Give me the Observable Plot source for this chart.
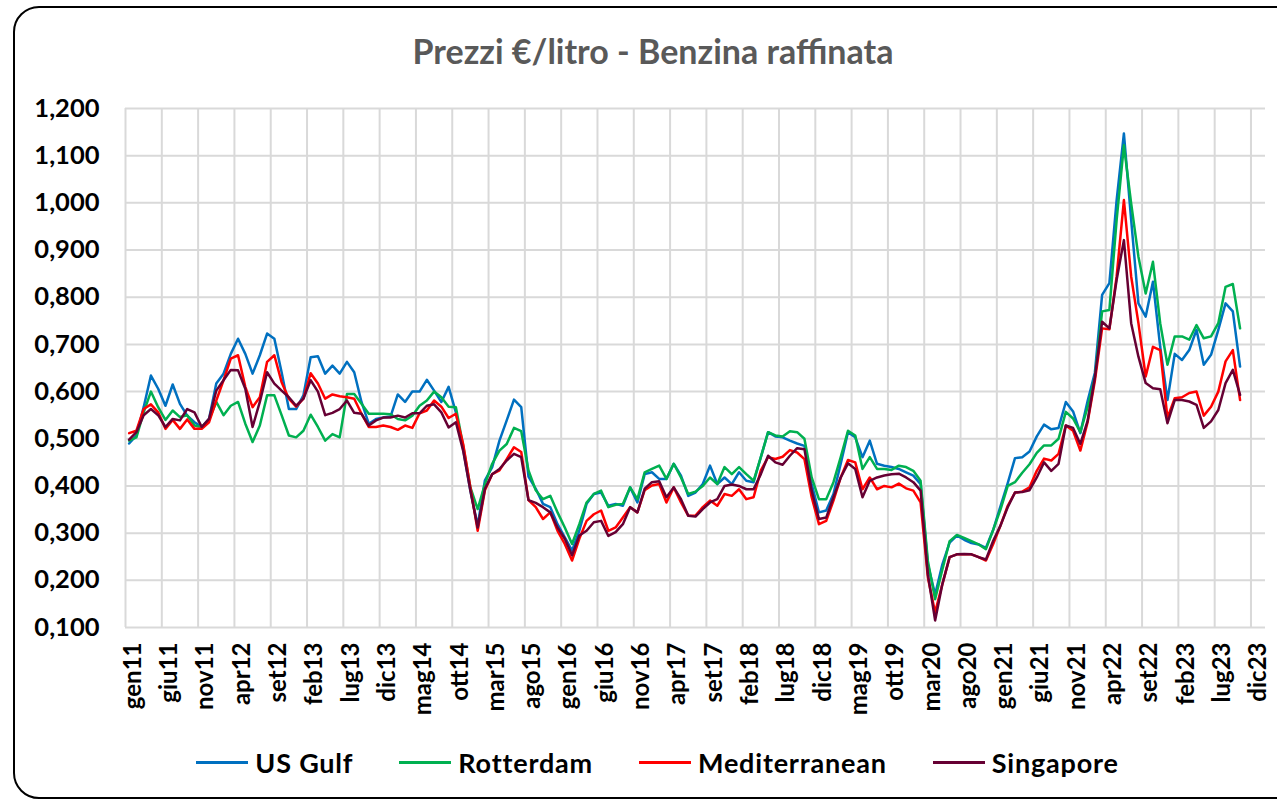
<!DOCTYPE html>
<html>
<head>
<meta charset="utf-8">
<script src="https://cdn.jsdelivr.net/npm/d3@7"></script>
<script src="https://cdn.jsdelivr.net/npm/@observablehq/plot@0.6"></script>
<style>
  body { margin: 0; background: #fff; font-family: Lato, "Open Sans", sans-serif; }
  #wrap { position: relative; width: 1277px; height: 806px; overflow: hidden; background: #fff; }
  #frame { position: absolute; left: 13px; top: 6px; width: 1330px; height: 793px; border: 2px solid #000; border-radius: 26px; box-sizing: border-box; }
  #chart { position: absolute; left: 0; top: 0; }
  #title { position: absolute; left: 0; width: 1306px; top: 30px; text-align: center; font-weight: 700; font-size: 34px; line-height: normal; color: #595959; white-space: nowrap; }
  #legend { position: absolute; left: 0; width: 1315px; top: 746px; display: flex; justify-content: center; align-items: center; font-weight: 700; font-size: 27px; letter-spacing: 0.8px; line-height: normal; color: #000; }
  .item { display: flex; align-items: center; margin: 0 23px; }
  .swatch { width: 52px; height: 2.5px; margin-right: 7px; }
</style>
</head>
<body>
<div id="wrap">
  <div id="frame"></div>
  <div id="chart"></div>
  <div id="title">Prezzi €/litro - Benzina raffinata</div>
  <div id="legend"></div>
</div>
<script>
// Monthly series, gen 2011 (index 0) .. ott 2023 (index 153), €/litro
const usGulf = [
  0.490,0.507,0.567,0.634,0.606,0.570,0.615,0.574,0.549,0.535,0.525,0.542,
  0.617,0.638,0.680,0.712,0.680,0.638,0.677,0.723,0.712,0.641,0.563,0.563,
  0.592,0.673,0.675,0.638,0.655,0.638,0.663,0.641,0.578,0.532,0.542,0.545,
  0.547,0.594,0.578,0.600,0.600,0.625,0.602,0.578,0.610,0.556,0.478,0.390,
  0.316,0.412,0.440,0.496,0.539,0.583,0.567,0.420,0.394,0.362,0.355,0.319,
  0.291,0.263,0.305,0.362,0.383,0.386,0.358,0.362,0.358,0.397,0.365,0.425,
  0.429,0.415,0.415,0.447,0.422,0.379,0.386,0.404,0.443,0.404,0.418,0.404,
  0.429,0.411,0.408,0.461,0.514,0.505,0.503,0.496,0.490,0.485,0.404,0.344,
  0.348,0.383,0.447,0.514,0.503,0.461,0.496,0.447,0.443,0.440,0.436,0.429,
  0.422,0.404,0.234,0.170,0.234,0.280,0.295,0.286,0.279,0.276,0.269,0.307,
  0.357,0.406,0.459,0.461,0.473,0.505,0.530,0.520,0.523,0.578,0.558,0.512,
  0.580,0.640,0.805,0.830,1.006,1.147,0.964,0.787,0.759,0.833,0.695,0.582,
  0.680,0.667,0.688,0.731,0.657,0.678,0.731,0.787,0.770,0.653
];
const rotterdam = [
  0.496,0.503,0.556,0.600,0.567,0.540,0.560,0.546,0.550,0.528,0.525,0.540,
  0.578,0.550,0.570,0.578,0.532,0.493,0.528,0.592,0.592,0.550,0.507,0.503,
  0.517,0.551,0.525,0.496,0.510,0.503,0.595,0.595,0.574,0.553,0.553,0.553,
  0.552,0.542,0.539,0.549,0.570,0.581,0.600,0.588,0.568,0.567,0.485,0.397,
  0.351,0.404,0.447,0.475,0.489,0.523,0.516,0.433,0.391,0.372,0.379,0.344,
  0.312,0.277,0.319,0.365,0.383,0.390,0.355,0.360,0.362,0.397,0.372,0.429,
  0.436,0.443,0.415,0.447,0.418,0.383,0.388,0.400,0.418,0.404,0.440,0.425,
  0.440,0.425,0.411,0.461,0.514,0.507,0.505,0.516,0.514,0.500,0.418,0.372,
  0.372,0.408,0.461,0.517,0.507,0.436,0.461,0.436,0.436,0.434,0.443,0.440,
  0.432,0.411,0.241,0.160,0.223,0.283,0.296,0.290,0.283,0.276,0.266,0.307,
  0.350,0.400,0.408,0.428,0.446,0.470,0.486,0.486,0.500,0.557,0.543,0.514,
  0.567,0.630,0.770,0.773,0.964,1.122,0.999,0.886,0.808,0.875,0.745,0.657,
  0.717,0.717,0.710,0.741,0.713,0.717,0.745,0.822,0.828,0.734
];
const mediterranean = [
  0.512,0.517,0.563,0.573,0.556,0.521,0.540,0.521,0.541,0.521,0.521,0.535,
  0.581,0.624,0.670,0.677,0.610,0.567,0.588,0.663,0.677,0.620,0.585,0.568,
  0.585,0.639,0.617,0.585,0.594,0.590,0.588,0.585,0.553,0.525,0.525,0.528,
  0.525,0.519,0.528,0.523,0.554,0.560,0.581,0.568,0.544,0.553,0.489,0.397,
  0.305,0.391,0.425,0.433,0.457,0.482,0.472,0.370,0.355,0.330,0.344,0.305,
  0.277,0.242,0.288,0.326,0.340,0.348,0.305,0.312,0.333,0.355,0.344,0.391,
  0.401,0.404,0.365,0.397,0.365,0.337,0.337,0.355,0.369,0.358,0.383,0.379,
  0.393,0.372,0.376,0.433,0.461,0.457,0.462,0.476,0.471,0.457,0.376,0.319,
  0.326,0.369,0.418,0.455,0.450,0.393,0.418,0.393,0.400,0.397,0.405,0.395,
  0.390,0.365,0.206,0.132,0.192,0.249,0.255,0.255,0.255,0.249,0.242,0.277,
  0.316,0.358,0.386,0.388,0.397,0.432,0.458,0.454,0.468,0.528,0.517,0.475,
  0.535,0.623,0.734,0.732,0.844,1.006,0.844,0.745,0.632,0.695,0.688,0.544,
  0.586,0.588,0.597,0.600,0.549,0.568,0.600,0.664,0.688,0.582
];
const singapore = [
  0.498,0.514,0.550,0.563,0.550,0.525,0.542,0.539,0.563,0.556,0.525,0.542,
  0.602,0.624,0.646,0.645,0.606,0.525,0.578,0.641,0.617,0.602,0.588,0.570,
  0.585,0.624,0.600,0.550,0.555,0.563,0.581,0.555,0.553,0.528,0.539,0.545,
  0.545,0.549,0.545,0.554,0.554,0.570,0.573,0.556,0.524,0.535,0.475,0.390,
  0.312,0.394,0.425,0.436,0.454,0.468,0.461,0.370,0.364,0.355,0.344,0.312,
  0.288,0.253,0.295,0.305,0.323,0.326,0.294,0.302,0.319,0.355,0.344,0.394,
  0.408,0.410,0.376,0.397,0.372,0.337,0.335,0.351,0.365,0.372,0.400,0.403,
  0.400,0.393,0.393,0.425,0.464,0.450,0.445,0.464,0.480,0.478,0.390,0.330,
  0.333,0.376,0.418,0.448,0.436,0.376,0.411,0.418,0.422,0.425,0.426,0.418,
  0.408,0.390,0.213,0.115,0.192,0.249,0.255,0.256,0.255,0.249,0.244,0.284,
  0.316,0.355,0.386,0.387,0.391,0.418,0.450,0.432,0.447,0.528,0.523,0.489,
  0.538,0.630,0.748,0.734,0.837,0.921,0.745,0.674,0.618,0.607,0.605,0.533,
  0.582,0.582,0.579,0.572,0.523,0.537,0.561,0.618,0.646,0.593
];
const seriesNames = ["US Gulf", "Rotterdam", "Mediterranean", "Singapore"];
const seriesColors = ["#0070C0", "#00B050", "#FF0000", "#660033"];
const xTickLabels = ["gen11","giu11","nov11","apr12","set12","feb13","lug13","dic13","mag14","ott14",
  "mar15","ago15","gen16","giu16","nov16","apr17","set17","feb18","lug18","dic18","mag19","ott19",
  "mar20","ago20","gen21","giu21","nov21","apr22","set22","feb23","lug23","dic23"];
const yTicks = [0.1,0.2,0.3,0.4,0.5,0.6,0.7,0.8,0.9,1.0,1.1,1.2];
const nCategories = 157; // gen11 .. gen24 category slots on the axis
const labelEvery = 5;

const seriesValues = [usGulf, rotterdam, mediterranean, singapore];
const rows = [];
seriesValues.forEach((vals, s) => vals.forEach((v, i) => rows.push({series: seriesNames[s], i: i + 0.5, v})));

const gridPos = xTickLabels.map((_, k) => k * labelEvery);
const tickPos = xTickLabels.map((_, k) => k * labelEvery + 0.5);

const chart = Plot.plot({
  width: 1277,
  height: 720,
  marginLeft: 125,
  marginRight: 12,
  marginTop: 108,
  marginBottom: 93,
  style: {fontFamily: "Lato, 'Open Sans', sans-serif", background: "transparent"},
  x: {type: "linear", domain: [0, nCategories], label: null},
  y: {domain: [0.1, 1.2], label: null},
  color: {domain: seriesNames, range: seriesColors},
  marks: [
    Plot.gridY(yTicks, {stroke: "#d9d9d9", strokeOpacity: 1, strokeWidth: 2}),
    Plot.gridX(gridPos, {stroke: "#d9d9d9", strokeOpacity: 1, strokeWidth: 2}),
    Plot.axisY(yTicks, {tickSize: 0, tickPadding: 26, label: null, tickFormat: d => d.toFixed(3).replace(".", ","),
      fontSize: 25.5, fontWeight: 700, fill: "#000"}),
    Plot.axisX(tickPos, {tickSize: 0, tickPadding: 15, tickRotate: -90, dx: 4, label: null,
      tickFormat: d => xTickLabels[Math.round((d - 0.5) / labelEvery)],
      fontSize: 24, fontWeight: 700, fill: "#000"}),
    Plot.line(rows, {x: "i", y: "v", z: "series", stroke: "series", strokeWidth: 2.5, strokeLinejoin: "round"})
  ]
});
document.getElementById("chart").appendChild(chart);

const legend = document.getElementById("legend");
seriesNames.forEach((name, s) => {
  const item = document.createElement("div");
  item.className = "item";
  const sw = document.createElement("span");
  sw.className = "swatch";
  sw.style.background = seriesColors[s];
  const tx = document.createElement("span");
  tx.textContent = name;
  item.appendChild(sw);
  item.appendChild(tx);
  legend.appendChild(item);
});
</script>
</body>
</html>
